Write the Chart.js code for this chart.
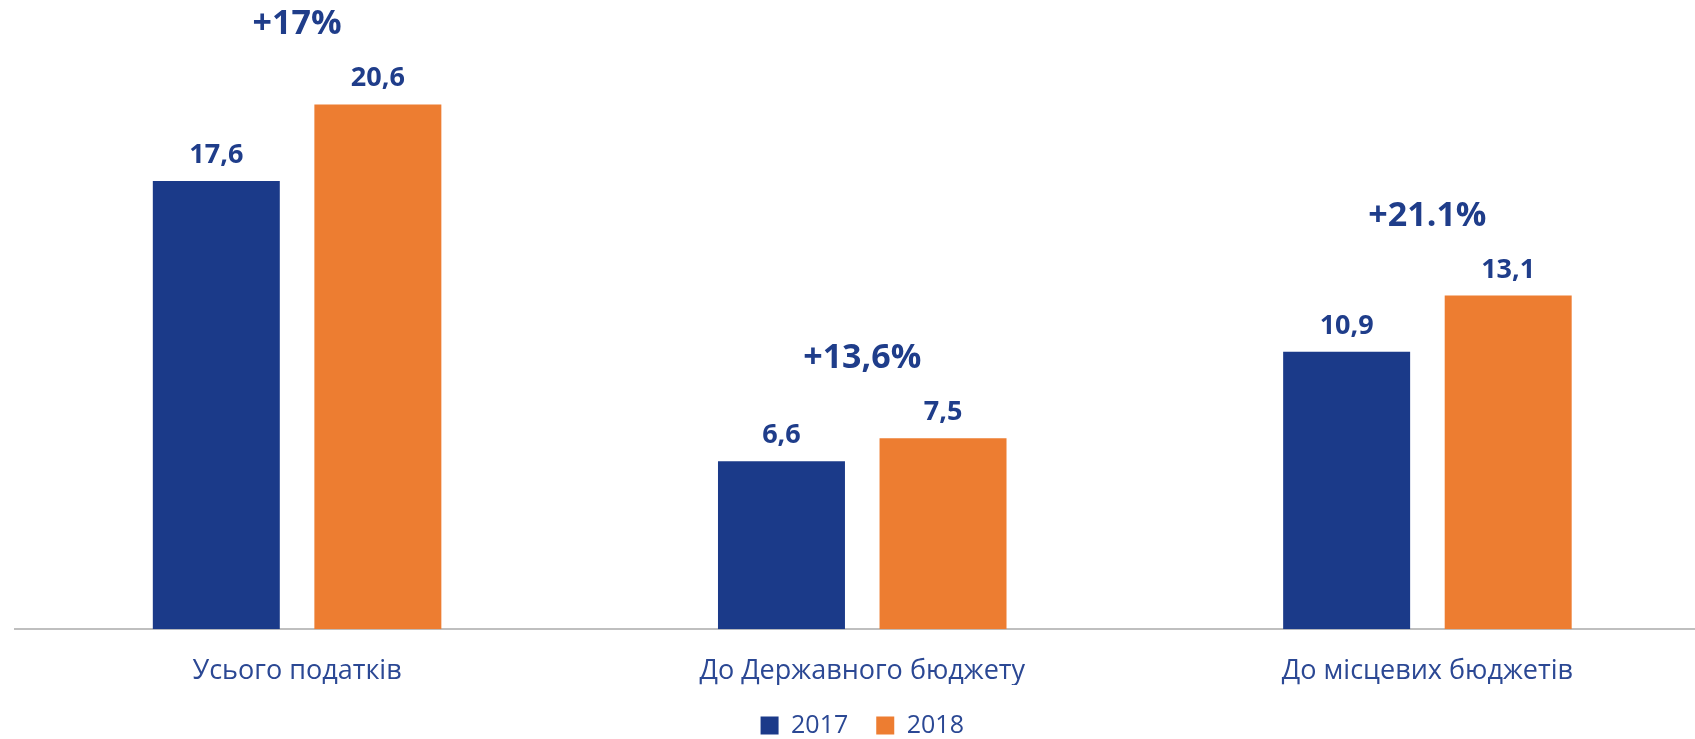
<!DOCTYPE html>
<html>
<head>
<meta charset="utf-8">
<script src="https://cdn.jsdelivr.net/npm/chart.js@4/dist/chart.umd.min.js"></script>
<style>
  html, body { margin: 0; padding: 0; background: #ffffff; overflow: hidden; }
  #wrap { position: relative; width: 1710px; height: 748px; }
</style>
</head>
<body>
<div id="wrap"><canvas id="c"></canvas></div>
<script>
const categories = ['Усього податків', 'До Державного бюджету', 'До місцевих бюджетів'];
const seriesNames = ['2017', '2018'];
const values2017 = [17.6, 6.6, 10.9];
const values2018 = [20.6, 7.5, 13.1];
const growthLabels = ['+17%', '+13,6%', '+21.1%'];

const BLUE = '#1B3A89';
const ORANGE = '#ED7D31';
const TEXT = '#1F3D8A';
const CAT_TEXT = '#2B4894';
const FONT = "'Open Sans', 'DejaVu Sans', sans-serif";

const labelPlugin = {
  id: 'labelPlugin',
  afterDatasetsDraw(chart) {
    const ctx = chart.ctx;
    ctx.save();
    ctx.fillStyle = TEXT;
    ctx.textAlign = 'center';
    ctx.textBaseline = 'alphabetic';
    ctx.font = 'bold 27px ' + FONT;
    chart.data.datasets.forEach((ds, i) => {
      const meta = chart.getDatasetMeta(i);
      meta.data.forEach((bar, j) => {
        const txt = ds.data[j].toFixed(1).replace('.', ',');
        ctx.fillText(txt, bar.x, bar.y - 18);
      });
    });
    const xScale = chart.scales.x;
    ctx.font = 'bold 34px ' + FONT;
    growthLabels.forEach((g, j) => {
      let top = Infinity;
      chart.data.datasets.forEach((ds, i) => {
        top = Math.min(top, chart.getDatasetMeta(i).data[j].y);
      });
      ctx.fillText(g, xScale.getPixelForValue(j), top - 70);
    });
    ctx.restore();
  }
};

new Chart(document.getElementById('c'), {
  type: 'bar',
  data: {
    labels: categories,
    datasets: [
      { label: seriesNames[0], data: values2017, backgroundColor: BLUE, borderWidth: 0 },
      { label: seriesNames[1], data: values2018, backgroundColor: ORANGE, borderWidth: 0 }
    ]
  },
  options: {
    responsive: true,
    maintainAspectRatio: false,
    animation: false,
    categoryPercentage: 0.5717,
    barPercentage: 0.786,
    layout: { padding: { left: 14.5, right: 0, top: 0, bottom: 0 } },
    plugins: {
      tooltip: { enabled: false },
      legend: {
        position: 'bottom',
        labels: {
          color: CAT_TEXT,
          font: { family: FONT, size: 25 },
          boxWidth: 18,
          boxHeight: 18,
          padding: 28
        }
      }
    },
    scales: {
      x: {
        grid: { display: false, drawTicks: false },
        border: { display: true, color: '#BFBFBF', width: 2 },
        ticks: {
          color: CAT_TEXT,
          font: { family: FONT, size: 27, lineHeight: 1.32 },
          padding: 24,
          maxRotation: 0,
          autoSkip: false
        },
        afterFit(scale) { scale.height -= 28; }
      },
      y: {
        display: false,
        min: 0,
        max: 24.7,
        grid: { display: false }
      }
    }
  },
  plugins: [labelPlugin]
});
</script>
</body>
</html>
